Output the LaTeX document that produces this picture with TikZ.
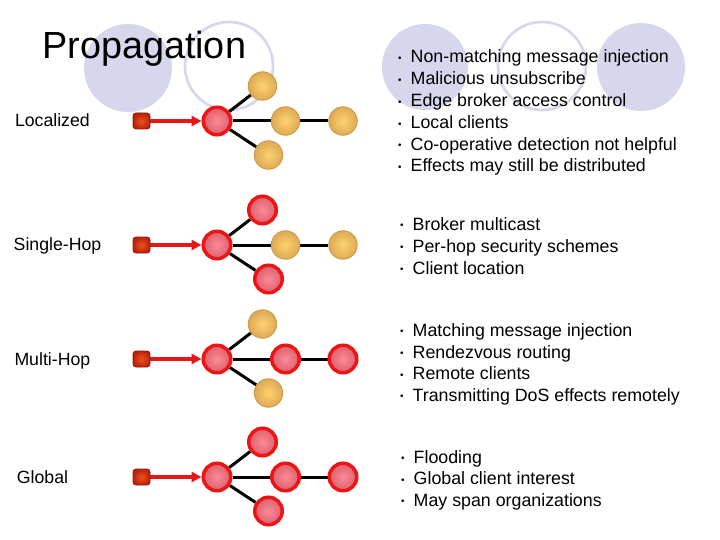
\documentclass[tikz,border=0pt]{standalone}
\usepackage{fontspec}
\setmainfont{Liberation Sans}
\usetikzlibrary{arrows.meta}
\pgfdeclarelayer{bg}
\pgfdeclarelayer{edges}
\pgfsetlayers{bg,edges,main}
\definecolor{lav}{RGB}{214,214,236}
\definecolor{redb}{RGB}{236,20,20}
\definecolor{pinkin}{RGB}{250,140,150}
\definecolor{pinkout}{RGB}{222,95,110}
\definecolor{yin}{RGB}{252,210,110}
\definecolor{yout}{RGB}{222,170,85}
\definecolor{ydraw}{RGB}{205,150,70}
\definecolor{sqin}{RGB}{240,80,30}
\definecolor{sqout}{RGB}{185,35,10}
\definecolor{sqdraw}{RGB}{140,25,5}
\definecolor{injred}{RGB}{232,22,22}
\tikzset{
  rnode/.style={circle, inner sep=0pt, minimum size=27.5pt, draw=redb, line width=3.5pt, inner color=pinkin, outer color=pinkout},
  ynode/.style={circle, inner sep=0pt, minimum size=28.5pt, draw=ydraw, line width=0.8pt, inner color=yin, outer color=yout},
  src/.style={rectangle, rounded corners=3pt, inner sep=0pt, minimum width=17pt, minimum height=16pt, draw=sqdraw, line width=0.8pt, inner color=sqin, outer color=sqout},
  link/.style={line width=3pt, black},
  inj/.style={draw=injred, line width=3.2pt, -{Triangle[length=10pt,width=10pt]}},
  lbl/.style={anchor=base west, inner sep=0pt, font=\fontsize{17.7}{21}\selectfont},
  txt/.style={anchor=base west, inner sep=0pt, font=\fontsize{17.8}{21}\selectfont},
  ttl/.style={anchor=base west, inner sep=0pt, font=\fontsize{37.8}{40}\selectfont},
  disc/.style={fill=lav},
  ring/.style={draw=lav, line width=2.7pt},
}
% row: #1 prefix, #2 y, #3 label, #4 label x, #5 top, #6 middle, #7 right, #8 bottom
\newcommand\prow[8]{%
  \node[lbl] (#1l) at (#4,#2+6) {#3};
  \node[src] (#1s) at (141.5,#2) {};
  \node[rnode] (#1c) at (217,#2) {};
  \node[#5] (#1t) at (262.5,#2-35) {};
  \node[#6] (#1m) at (285.5,#2) {};
  \node[#7] (#1r) at (343,#2) {};
  \node[#8] (#1b) at (268.5,#2+34) {};
  \begin{pgfonlayer}{edges}
    \draw[link] (#1c) -- (#1t);
    \draw[link] (#1c) -- (#1m);
    \draw[link] (#1m) -- (#1r);
    \draw[link] (#1c) -- (#1b);
    \draw[inj] (#1s) -- (#1c);
  \end{pgfonlayer}
}
\newcommand\bl[4]{\node[txt] (#1) at (#2,#3) {\makebox[12.5pt][l]{\raisebox{1.3pt}{\scalebox{0.55}{•}}}#4};}
\begin{document}
\begin{tikzpicture}[x=1pt,y=-1pt]
\useasboundingbox (0,0) rectangle (720,540);
\begin{pgfonlayer}{bg}
  \fill[white] (0,0) rectangle (720,540);
  \fill[disc] (128,68) circle[radius=44pt];
  \draw[ring] (229,66) circle[radius=44pt];
  \fill[disc] (425,67) circle[radius=43pt];
  \draw[ring] (542,66) circle[radius=44pt];
  \fill[disc] (641,67) circle[radius=44pt];
\end{pgfonlayer}
\node[ttl] (title) at (42,59) {Propagation};
\prow{a}{121}{Localized}{14.8}{ynode}{ynode}{ynode}{ynode}
\prow{b}{245}{Single-Hop}{13.5}{rnode}{ynode}{ynode}{rnode}
\prow{c}{359}{Multi-Hop}{14.3}{ynode}{rnode}{rnode}{ynode}
\prow{d}{477}{Global}{16.7}{rnode}{rnode}{rnode}{rnode}
\bl{a1}{398}{63}{Non-matching message injection}
\bl{a2}{398}{84.8}{Malicious unsubscribe}
\bl{a3}{398}{106.6}{Edge broker access control}
\bl{a4}{398}{128.4}{Local clients}
\bl{a5}{398}{150.2}{Co-operative detection not helpful}
\bl{a6}{398}{172}{Effects may still be distributed}
\bl{b1}{400}{230}{Broker multicast}
\bl{b2}{400}{252}{Per-hop security schemes}
\bl{b3}{400}{274}{Client location}
\bl{c1}{400}{336}{Matching message injection}
\bl{c2}{400}{358}{Rendezvous routing}
\bl{c3}{400}{379.5}{Remote clients}
\bl{c4}{400}{401}{Transmitting DoS effects remotely}
\bl{d1}{401}{463}{Flooding}
\bl{d2}{401}{484.5}{Global client interest}
\bl{d3}{401}{506}{May span organizations}
\end{tikzpicture}
\end{document}
